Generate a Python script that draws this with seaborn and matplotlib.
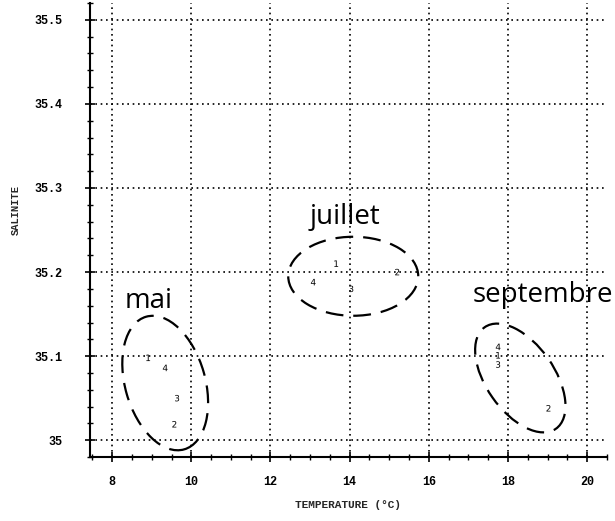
import numpy as np
import pandas as pd
import seaborn as sns
import matplotlib
matplotlib.use("Agg")
import matplotlib.pyplot as plt
from matplotlib.patches import Ellipse
from matplotlib.transforms import ScaledTranslation
from matplotlib.ticker import MultipleLocator, FuncFormatter
from matplotlib.font_manager import FontProperties

# Station numbers (drawn as the point markers)
stations = ["1", "2", "3", "4"]

# Temperature (°C) and salinity per campaign, in station order 1..4
temp_mai = [8.91, 9.57, 9.64, 9.34]
sal_mai = [35.098, 35.019, 35.050, 35.086]

temp_juillet = [13.66, 15.20, 14.04, 13.08]
sal_juillet = [35.210, 35.200, 35.180, 35.188]

temp_septembre = [17.75, 19.02, 17.75, 17.75]
sal_septembre = [35.101, 35.038, 35.090, 35.111]

months = ["mai", "juillet", "septembre"]

x_ticks = [8, 10, 12, 14, 16, 18, 20]
y_ticks = [35.0, 35.1, 35.2, 35.3, 35.4, 35.5]

df = pd.DataFrame({
    "temperature": temp_mai + temp_juillet + temp_septembre,
    "salinite": sal_mai + sal_juillet + sal_septembre,
    "station": stations * 3,
    "mois": [m for m in months for _ in stations],
})

sns.set_style("white")
plt.rcParams["font.family"] = ["DejaVu Sans"]

fig = plt.figure(figsize=(6.15, 5.21), dpi=100)
ax = fig.add_axes([0.1463, 0.1228, 0.8407, 0.8714])

sns.scatterplot(
    data=df, x="temperature", y="salinite", style="station",
    markers={s: f"${s}$" for s in stations},
    color="black", s=22, linewidth=0, legend=False, ax=ax, zorder=3,
)

ax.set_xlim(7.44, 20.5)
ax.set_ylim(34.98, 35.52)

ax.set_xticks(x_ticks)
ax.set_yticks(y_ticks)
ax.xaxis.set_minor_locator(MultipleLocator(0.5))
ax.yaxis.set_minor_locator(MultipleLocator(0.02))
ax.yaxis.set_major_formatter(FuncFormatter(lambda v, p: f"{v:g}"))

# Dotted grid
ax.grid(True, which="major", color="black", linestyle=(0, (1, 2.2)), linewidth=1.2)

for side in ["top", "right"]:
    ax.spines[side].set_visible(False)
for side in ["left", "bottom"]:
    ax.spines[side].set_color("black")
    ax.spines[side].set_linewidth(1.5)

ax.tick_params(axis="both", which="both", bottom=True, left=True,
               top=False, right=False)
ax.tick_params(axis="both", which="major", direction="inout", length=7,
               width=1.2, color="black", labelcolor="black")
ax.tick_params(axis="both", which="minor", direction="inout", length=5,
               width=1.0, color="black")
ax.tick_params(axis="x", which="major", pad=10)
ax.tick_params(axis="y", which="major", pad=16)
mono = FontProperties(family="Liberation Mono", weight="bold", size=8.5)
for lab in ax.get_xticklabels() + ax.get_yticklabels():
    lab.set_fontproperties(mono)

ax.set_xlabel("TEMPERATURE (°C)", fontdict=dict(family="Liberation Mono", weight="bold", size=8))
ax.set_ylabel("SALINITE", fontdict=dict(family="Liberation Mono", weight="bold", size=7.5))
ax.xaxis.set_label_coords(0.5, -0.095)
ax.yaxis.set_label_coords(-0.1335, 0.544)

# Dashed envelopes around each campaign: centre (data), width/height (px), angle
envelopes = [
    ((9.34, 35.068), 80, 138, 16),
    ((14.09, 35.195), 130, 79, 0),
    ((18.31, 35.074), 68, 124, 35),
]
for (cx, cy), w, h, ang in envelopes:
    tr = fig.dpi_scale_trans + ScaledTranslation(cx, cy, ax.transData)
    ax.add_patch(Ellipse((0, 0), w / 100, h / 100, angle=ang, transform=tr,
                         fill=False, edgecolor="black", linewidth=1.6,
                         linestyle=(0, (8, 4.5)), clip_on=False, zorder=4))

# Campaign names (baseline positions)
month_pos = [(8.91, 35.157), (13.89, 35.257), (18.89, 35.164)]
for name, (mx, my) in zip(months, month_pos):
    ax.text(mx, my, name, ha="center", va="baseline", fontsize=20,
            family="Open Sans", color="black", clip_on=False, zorder=5)

fig.savefig("out.png", dpi=100)
